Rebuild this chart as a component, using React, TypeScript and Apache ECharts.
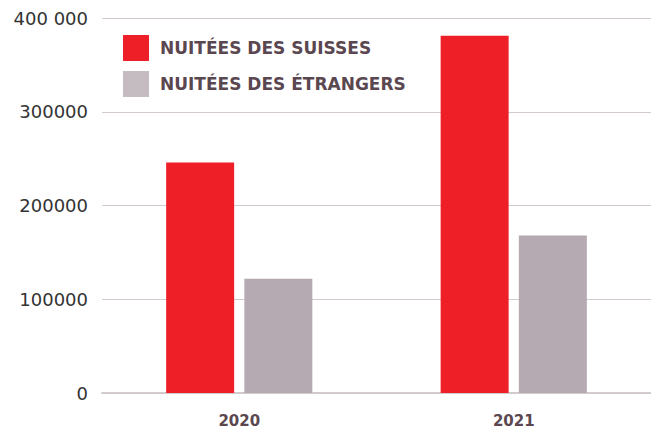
import React, { useEffect, useRef } from "react";
import * as echarts from "echarts";

const categories = ["2020", "2021"];
const suisses = [246000, 381000];
const etrangers = [122000, 168000];
const seriesNames = ["NUITÉES DES SUISSES", "NUITÉES DES ÉTRANGERS"];
const yTicks = [0, 100000, 200000, 300000, 400000];
const yTickLabels = ["0", "100000", "200000", "300000", "400 000"];

export default function App() {
  const ref = useRef<HTMLDivElement>(null);
  useEffect(() => {
    if (!ref.current) return;
    const chart = echarts.init(ref.current, null, { renderer: "svg" });
    chart.setOption({
      animation: false,
      backgroundColor: "#ffffff",
      grid: { left: 102, right: 0, top: 18, bottom: 35, containLabel: false },
      legend: {
        orient: "vertical",
        left: 118,
        top: 30,
        itemWidth: 26,
        itemHeight: 26,
        itemGap: 10,
        icon: "rect",
        selectedMode: false,
        textStyle: {
          fontFamily: "DejaVu Sans",
          fontWeight: "bold",
          fontSize: 17,
          color: "#5a4750",
          padding: [0, 0, 0, 6],
        },
        data: [
          { name: seriesNames[0], itemStyle: { color: "#ee1f27" } },
          { name: seriesNames[1], itemStyle: { color: "#c5bcc2" } },
        ],
      },
      xAxis: {
        type: "category",
        data: categories,
        axisLine: { show: true, lineStyle: { color: "#d3cace", width: 2 } },
        axisTick: { show: false },
        axisLabel: {
          margin: 20,
          fontFamily: "DejaVu Sans",
          fontWeight: "bold",
          fontSize: 15,
          color: "#5a4750",
        },
      },
      yAxis: {
        type: "value",
        min: 0,
        max: 400000,
        interval: 100000,
        axisLine: { show: false },
        axisTick: { show: false },
        splitLine: { lineStyle: { color: "#d3cace", width: 1 } },
        axisLabel: {
          margin: 14,
          fontFamily: "DejaVu Sans",
          fontSize: 18,
          color: "#333333",
          formatter: (v: number) => yTickLabels[yTicks.indexOf(v)] ?? String(v),
        },
      },
      series: [
        {
          name: seriesNames[0],
          type: "bar",
          data: suisses,
          barWidth: 68,
          barGap: "15%",
          itemStyle: { color: "#ee1f27" },
        },
        {
          name: seriesNames[1],
          type: "bar",
          data: etrangers,
          barWidth: 68,
          itemStyle: { color: "#b5aab1" },
        },
      ],
    });
    return () => chart.dispose();
  }, []);
  return <div ref={ref} style={{ width: 651, height: 428, position: "absolute", left: 0, top: 0 }} />;
}
